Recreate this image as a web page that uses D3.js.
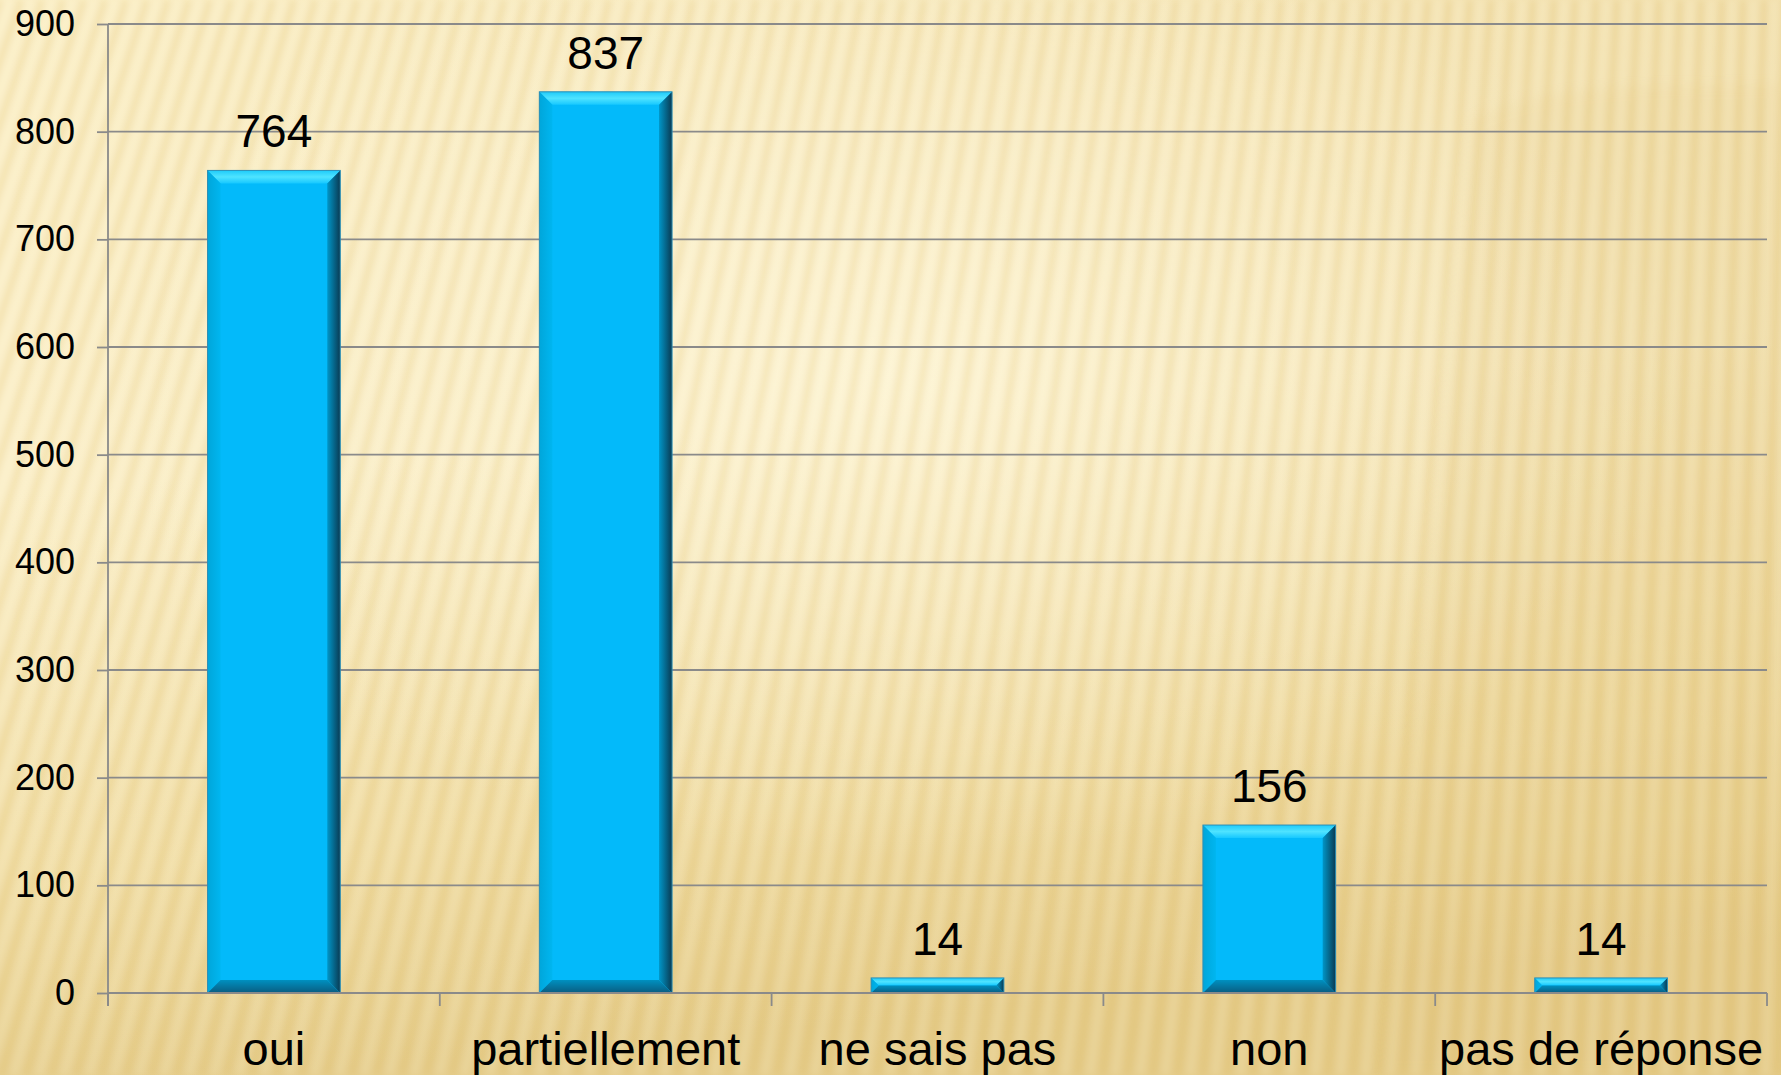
<!DOCTYPE html>
<html>
<head>
<meta charset="utf-8">
<script src="https://cdn.jsdelivr.net/npm/d3@7"></script>
<style>
  html, body { margin: 0; padding: 0; background: #F8EABF; }
  svg { display: block; }
  text { font-family: "Liberation Sans", Arial, sans-serif; fill: #000; }
</style>
</head>
<body>
<svg id="chart" width="1781" height="1075"></svg>
<script>
// ---- data ----
const categories = ["oui", "partiellement", "ne sais pas", "non", "pas de réponse"];
const values = [764, 837, 14, 156, 14];
const yTicks = [0, 100, 200, 300, 400, 500, 600, 700, 800, 900];

// ---- layout ----
const W = 1781, H = 1075;
const margin = { left: 108, right: 14, top: 24, bottom: 82 };
const x0 = margin.left, x1 = W - margin.right;
const yTop = margin.top, yBot = H - margin.bottom;

const svg = d3.select("#chart");
const defs = svg.append("defs");

// background gradients
const bg = defs.append("linearGradient").attr("id", "bgGrad")
  .attr("x1", 0).attr("y1", 0).attr("x2", 0.15).attr("y2", 1);
bg.append("stop").attr("offset", "0%").attr("stop-color", "#FBEFC6");
bg.append("stop").attr("offset", "45%").attr("stop-color", "#FBEFC8");
bg.append("stop").attr("offset", "80%").attr("stop-color", "#F1DEA6");
bg.append("stop").attr("offset", "100%").attr("stop-color", "#E6CE8D");

const glow = defs.append("radialGradient").attr("id", "glow")
  .attr("cx", 0.5).attr("cy", 0.35).attr("r", 0.45);
glow.append("stop").attr("offset", "0%").attr("stop-color", "#FFF8DC").attr("stop-opacity", 0.75);
glow.append("stop").attr("offset", "100%").attr("stop-color", "#FFF8DC").attr("stop-opacity", 0);

const rightShade = defs.append("linearGradient").attr("id", "rightShade")
  .attr("x1", 0).attr("y1", 0).attr("x2", 1).attr("y2", 0);
rightShade.append("stop").attr("offset", "0%").attr("stop-color", "#E2C57E").attr("stop-opacity", 0);
rightShade.append("stop").attr("offset", "100%").attr("stop-color", "#E2C57E").attr("stop-opacity", 0.35);

defs.append("filter").attr("id", "blur").attr("x", "-10%").attr("y", "-10%").attr("width", "120%").attr("height", "120%")
  .append("feGaussianBlur").attr("stdDeviation", 3.5);
defs.append("filter").attr("id", "blurBig")
  .append("feGaussianBlur").attr("stdDeviation", 6);

svg.append("rect").attr("width", W).attr("height", H).attr("fill", "url(#bgGrad)");
svg.append("rect").attr("width", W).attr("height", H).attr("fill", "url(#rightShade)");
svg.append("rect").attr("width", W).attr("height", H).attr("fill", "url(#glow)");

// subtle darker region top right
svg.append("path")
  .attr("d", "M1470,120 Q1520,92 1640,86 L1781,84 L1781,1075 L1380,1075 Z")
  .attr("fill", "#E0C27A").attr("opacity", 0.12).attr("filter", "url(#blurBig)");

// fan of stripes (decorative), converging toward a point far above-right
const stripes = svg.append("g").attr("filter", "url(#blur)");
const cx = 1950, cy = 5600;
const fanLine = tx => ({ x1: tx, x2: tx - (cx - tx) * (H / cy) });
for (let i = -4; i < 100; i++) {
  const a = fanLine(i * 21), b = fanLine(i * 21 + 10.5);
  stripes.append("line")
    .attr("x1", a.x1).attr("y1", 0).attr("x2", a.x2).attr("y2", H)
    .attr("stroke", "#D6B55C").attr("stroke-width", 8).attr("opacity", 0.2);
  stripes.append("line")
    .attr("x1", b.x1).attr("y1", 0).attr("x2", b.x2).attr("y2", H)
    .attr("stroke", "#FFFAE6").attr("stroke-width", 6).attr("opacity", 0.22);
}

// ---- scales ----
const x = d3.scaleBand().domain(categories).range([x0, x1]).paddingInner(0.6).paddingOuter(0.3);
const xb = d3.scaleBand().domain(categories).range([x0, x1]).padding(0);
const y = d3.scaleLinear().domain([0, 900]).range([yBot, yTop]);

// gridlines
svg.append("g")
  .selectAll("line").data(yTicks.filter(d => d > 0)).join("line")
  .attr("x1", x0).attr("x2", x1)
  .attr("y1", d => y(d)).attr("y2", d => y(d))
  .attr("stroke", "#8A8A8A").attr("stroke-width", 1.8);

// y axis
const yAxis = svg.append("g").attr("transform", `translate(${x0},0)`)
  .call(d3.axisLeft(y).tickValues(yTicks).tickSizeInner(11).tickSizeOuter(0).tickPadding(22));
yAxis.select(".domain").remove();
yAxis.selectAll(".tick line").attr("stroke", "#8A8A8A").attr("stroke-width", 1.8);
yAxis.selectAll(".tick text").style("font-size", "36px").style("font-family", "Liberation Sans, Arial, sans-serif").attr("fill", "#000");
svg.append("line").attr("x1", x0).attr("x2", x0).attr("y1", yTop).attr("y2", yBot + 13)
  .attr("stroke", "#8A8A8A").attr("stroke-width", 1.8);

// ---- bars with bevel ----
const gTop = defs.append("linearGradient").attr("id", "gTop").attr("x1", 0).attr("y1", 0).attr("x2", 0).attr("y2", 1);
gTop.append("stop").attr("offset", "0%").attr("stop-color", "#1ECBFA");
gTop.append("stop").attr("offset", "50%").attr("stop-color", "#4FE3FF");
gTop.append("stop").attr("offset", "100%").attr("stop-color", "#16C8FF");
const gRight = defs.append("linearGradient").attr("id", "gRight").attr("x1", 0).attr("y1", 0).attr("x2", 1).attr("y2", 0);
gRight.append("stop").attr("offset", "0%").attr("stop-color", "#0096C8");
gRight.append("stop").attr("offset", "100%").attr("stop-color", "#0A3A52");
const gBottom = defs.append("linearGradient").attr("id", "gBottom").attr("x1", 0).attr("y1", 0).attr("x2", 0).attr("y2", 1);
gBottom.append("stop").attr("offset", "0%").attr("stop-color", "#0090C0");
gBottom.append("stop").attr("offset", "100%").attr("stop-color", "#0A5C80");
const gLeft = defs.append("linearGradient").attr("id", "gLeft").attr("x1", 0).attr("y1", 0).attr("x2", 1).attr("y2", 0);
gLeft.append("stop").attr("offset", "0%").attr("stop-color", "#00A6DA");
gLeft.append("stop").attr("offset", "100%").attr("stop-color", "#00B6F0");

const bars = svg.append("g").selectAll("g").data(categories.map((c, i) => ({ c, v: values[i] }))).join("g");
bars.each(function (d) {
  const g = d3.select(this);
  const L = x(d.c), R = L + x.bandwidth(), T = y(d.v), B = y(0);
  const b = Math.min(13, (B - T) / 2, (R - L) / 2);
  const pts = a => a.map(p => p.join(",")).join(" ");
  g.append("rect").attr("x", L).attr("y", T).attr("width", R - L).attr("height", B - T).attr("fill", "#03BAFA");
  g.append("polygon").attr("points", pts([[L, T], [R, T], [R - b, T + b], [L + b, T + b]])).attr("fill", "url(#gTop)");
  g.append("polygon").attr("points", pts([[L, T], [L + b, T + b], [L + b, B - b], [L, B]])).attr("fill", "url(#gLeft)");
  g.append("polygon").attr("points", pts([[R, T], [R, B], [R - b, B - b], [R - b, T + b]])).attr("fill", "url(#gRight)");
  g.append("polygon").attr("points", pts([[L, B], [R, B], [R - b, B - b], [L + b, B - b]])).attr("fill", "url(#gBottom)");
  g.append("rect").attr("x", L).attr("y", T).attr("width", R - L).attr("height", B - T)
    .attr("fill", "none").attr("stroke", "#2F8FB5").attr("stroke-width", 1);
});

// x axis baseline and ticks
svg.append("line").attr("x1", x0).attr("x2", x1).attr("y1", yBot).attr("y2", yBot)
  .attr("stroke", "#8A8A8A").attr("stroke-width", 1.8);
const bounds = categories.map(c => xb(c)).concat([xb(categories[categories.length - 1]) + xb.bandwidth()]);
svg.append("g").selectAll("line").data(bounds).join("line")
  .attr("x1", d => d).attr("x2", d => d).attr("y1", yBot).attr("y2", yBot + 13)
  .attr("stroke", "#8A8A8A").attr("stroke-width", 1.8);

// category labels
svg.append("g").selectAll("text").data(categories).join("text")
  .attr("x", d => xb(d) + xb.bandwidth() / 2).attr("y", yBot + 72)
  .attr("text-anchor", "middle").style("font-size", "47px").text(d => d);

// value labels
svg.append("g").selectAll("text").data(categories.map((c, i) => ({ c, v: values[i] }))).join("text")
  .attr("x", d => x(d.c) + x.bandwidth() / 2).attr("y", d => y(d.v) - 23)
  .attr("text-anchor", "middle").style("font-size", "46px").text(d => d.v);
</script>
</body>
</html>
